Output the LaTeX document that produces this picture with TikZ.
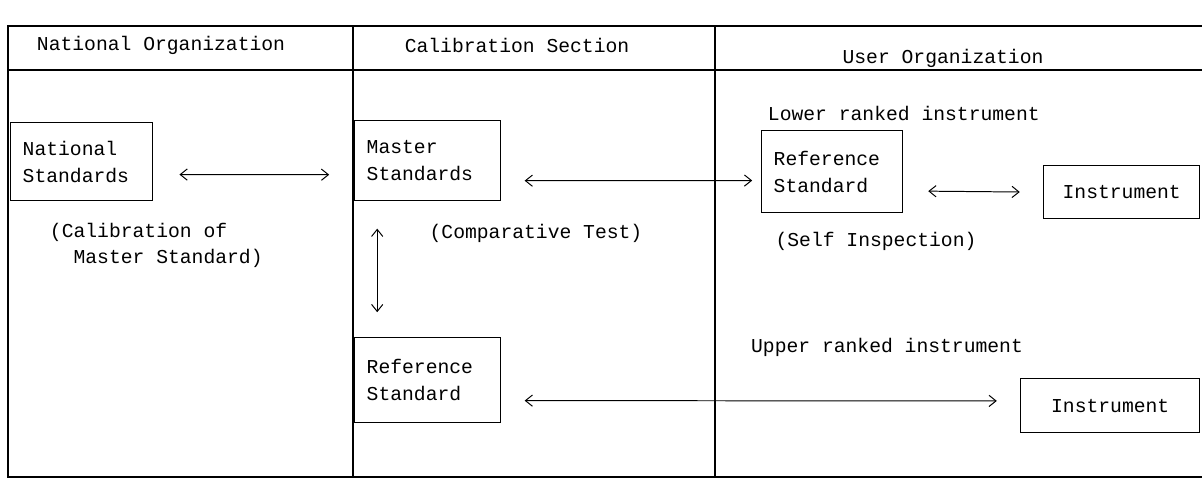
\documentclass[tikz,border=0pt]{standalone}
\usepackage{fontspec}
\setmonofont{Liberation Mono}
\usetikzlibrary{arrows,arrows.meta,positioning}

\begin{document}
\begin{tikzpicture}[x=0.025cm, y=-0.025cm,
    stdbox/.style={rectangle, draw, line width=1pt, anchor=north west, inner sep=0.3cm, font=\ttfamily\fontsize{14}{19}\selectfont},
    hdr/.style={font=\ttfamily\fontsize{14}{19}\selectfont},
    note/.style={font=\ttfamily\fontsize{14}{19}\selectfont, align=left},
    link/.style={<->, >={Straight Barb[length=5pt,width=8pt]}, line width=0.7pt}
]
\useasboundingbox (0,0) rectangle (1202,483);

% table frame
\draw[line width=1.2pt] (1202,26) -- (8,26) -- (8,477) -- (1202,477);
\draw[line width=1.2pt] (8,70) -- (1202,70);
\draw[line width=1.2pt] (353,26) -- (353,477);
\draw[line width=1.2pt] (715,26) -- (715,477);

% column headers
\node (hnat) at (161,45) [hdr] {National Organization};
\node (hcal) at (517,45) [hdr] {Calibration Section};
\node (husr) at (943,58) [hdr] {User Organization};

% National Organization
\node (natstd) at (10,122) [stdbox, align=left, text width=2.95cm, minimum height=1.95cm] {National\\Standards};
\node (ncal) at (45,218) [note, anchor=north west] {(Calibration of\\\hphantom{MM}Master Standard)};

% Calibration Section
\node (masterstd) at (354,120) [stdbox, align=left, text width=3.05cm, minimum height=2.0cm] {Master\\Standards};
\node (ncomp) at (536,233) [note] {(Comparative Test)};
\node (refbot) at (354,337) [stdbox, align=left, text width=3.05cm, minimum height=2.125cm] {Reference\\Standard};

% User Organization
\node (nlow) at (763,113) [note, anchor=west] {Lower ranked instrument};
\node (reftop) at (761,130) [stdbox, align=left, text width=2.925cm, minimum height=2.05cm] {Reference\\Standard};
\node (insttop) at (1043,165) [stdbox, align=center, text width=3.3cm, minimum height=1.325cm] {Instrument};
\node (nself) at (876,241) [note] {(Self Inspection)};
\node (nupp) at (887,347) [note] {Upper ranked instrument};
\node (instbot) at (1020,378) [stdbox, align=center, text width=3.875cm, minimum height=1.35cm] {Instrument};

% connectors
\draw[link, shorten <=0.65cm, shorten >=0.62cm] ([yshift=-0.32cm]natstd.east) -- ([yshift=-0.35cm]masterstd.west);
\draw[link, shorten <=0.58cm, shorten >=0.22cm] ([yshift=-0.5cm]masterstd.east) -- ([yshift=-0.22cm]reftop.west);
\draw[link, shorten <=0.62cm, shorten >=0.58cm] ([yshift=-0.48cm]reftop.east) -- (insttop.west);
\draw[link, shorten <=0.68cm, shorten >=0.62cm] ([xshift=0.58cm]masterstd.south west) -- ([xshift=0.58cm]refbot.north west);
\draw[link, shorten <=0.58cm, shorten >=0.58cm] ([yshift=-0.51cm]refbot.east) -- ([yshift=0.12cm]instbot.west);

\end{tikzpicture}
\end{document}
